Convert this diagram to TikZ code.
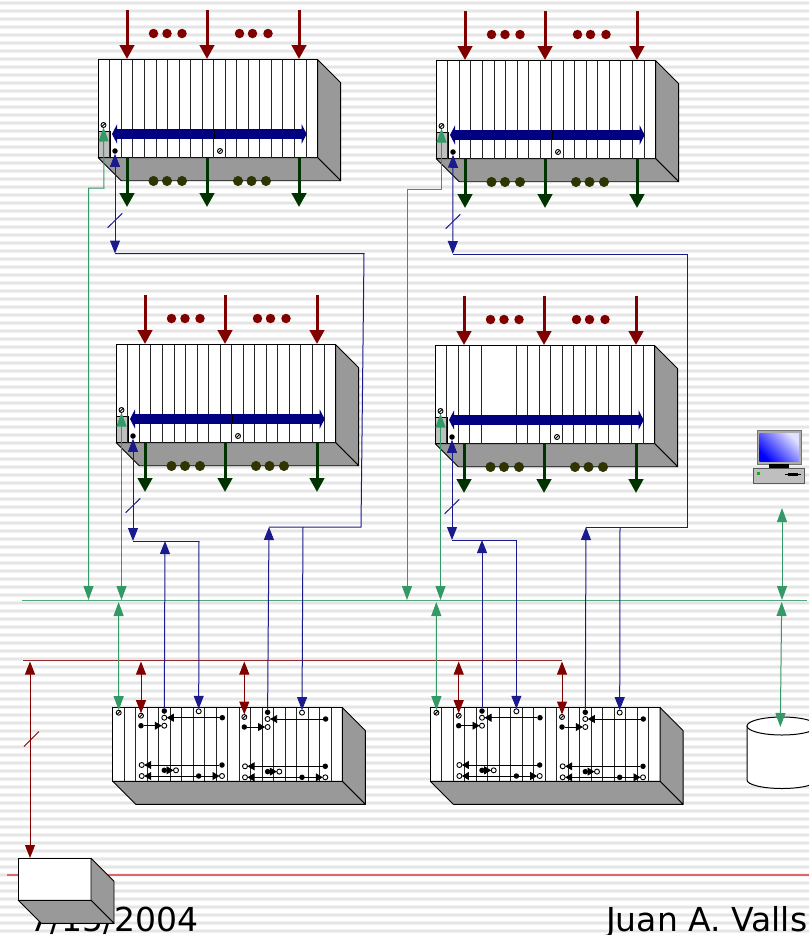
\documentclass[tikz,border=0pt]{standalone}
\usepackage{fontspec}
\setmainfont{DejaVu Sans}
\usetikzlibrary{arrows.meta}
\definecolor{tealc}{HTML}{339966}
\definecolor{bluec}{HTML}{000080}
\definecolor{bluel}{HTML}{1A1A8C}
\definecolor{redc}{HTML}{800000}
\definecolor{grnc}{HTML}{003300}
\definecolor{olive}{HTML}{333300}
\definecolor{sidec}{HTML}{999999}
\definecolor{pwrc}{HTML}{DD6666}
\tikzset{
  rackfront/.style={draw=black,fill=white,line width=0.9pt,inner sep=0pt,outer sep=0pt,anchor=north west},
  rackside/.style={draw=black,fill=sidec,line width=0.9pt,line join=round},
  slotline/.style={draw=black!85,line width=0.9pt},
  tealln/.style={draw=tealc,line width=1pt,{Triangle[width=10pt,length=14pt]}-{Triangle[width=10pt,length=14pt]}},
  blueln/.style={draw=bluel,line width=1pt,line join=miter},
  redln/.style={draw=redc,line width=1pt,{Triangle[width=10pt,length=13pt]}-{Triangle[width=10pt,length=13pt]}},
  heavy/.style={line width=3pt,-{Triangle[width=14.5pt,length=14pt]}},
  busar/.style={draw=bluec,line width=10pt,{Triangle[width=19pt,length=5pt]}-{Triangle[width=19pt,length=5pt]}},
  sdot/.style={circle,draw=black,fill=white,line width=0.9pt,minimum size=5pt,inner sep=0pt,outer sep=0pt},
  fdot/.style={circle,fill=black,minimum size=5.5pt,inner sep=0pt,outer sep=0pt},
  odot/.style={circle,draw=black,fill=white,line width=0.9pt,minimum size=5pt,inner sep=0pt,outer sep=0pt},
  tiny/.style={draw=black,line width=0.8pt,-{Triangle[width=8pt,length=7pt]}},
  tinyb/.style={draw=black,line width=0.8pt,{Triangle[width=8pt,length=7pt]}-{Triangle[width=8pt,length=7pt]}},
  ball/.style={circle,inner sep=0pt,outer sep=0pt,minimum size=9.5pt},
  foot/.style={anchor=base west,inner sep=0pt,font=\fontsize{33}{36}\selectfont,text=black},
}
% body: name, x, y, width, height
\newcommand{\boxbody}[5]{%
  \node[rackfront,minimum width=#4pt,minimum height=#5pt] (#1) at (#2,#3) {};
  \draw[rackside] (#1.north east) -- ++(23,23) -- ++(0,#5) -- (#1.south east) -- cycle;
  \draw[rackside] (#1.south west) -- ++(23,23) -- ++(#4,0) -- (#1.south east) -- cycle;
}
% slashed dot
\newcommand{\sdotat}[3]{%
  \node[sdot] (#1) at (#2,#3) {};
  \draw[black,line width=0.9pt] (#1.south west) -- (#1.north east);
}
% top type rack: name, dx, dy, list of slots
\newcommand{\toprack}[4]{%
\begin{scope}[shift={(#2,#3)}]
  \boxbody{#1}{98.3}{59.7}{219.3}{98}
  \fill[black!25] (98.3,131.7) rectangle (110,157.7);
  \draw[black,line width=0.9pt] (98.3,131.7) -- (110,131.7) -- (110,157.7) -- (98.3,157.7) -- cycle;
  \foreach \i in {#4} { \draw[slotline] ({98.3+\i*11.54},59.7) -- ({98.3+\i*11.54},157.7); }
  \sdotat{#1-ctl}{103.5}{125}
  \node[fdot] (#1-port) at (115,151) {};
  \sdotat{#1-aux}{220}{151}
  \coordinate (#1-bl) at (112,134); \coordinate (#1-br) at (306.7,134);
  \draw[busar] (#1-bl) -- (#1-br);
  \coordinate (#1-bt) at (214,129); \coordinate (#1-bb) at (214,139);
  \draw[black,line width=0.6pt] (#1-bt) -- (#1-bb);
  \foreach \p in {127,207,299} {
    \coordinate (#1-i\p) at (\p,10); \coordinate (#1-j\p) at (\p,59);
    \draw[heavy,redc] (#1-i\p) -- (#1-j\p);
    \coordinate (#1-k\p) at (\p,158); \coordinate (#1-l\p) at (\p,207);
    \draw[heavy,grnc] (#1-k\p) -- (#1-l\p);
  }
  \foreach \p/\n in {153.5/a,167/b,182/c,239.5/d,252.5/e,268/f} { \node[ball,fill=redc] (#1-u\n) at (\p,33.5) {}; }
  \foreach \p/\n in {153.5/a,167/b,182/c,238/d,251.5/e,266/f} { \node[ball,fill=olive,draw=grnc!60!olive,line width=0.4pt] (#1-w\n) at (\p,181) {}; }
  \coordinate (#1-s1) at (107.7,227.7); \coordinate (#1-s2) at (122.3,213.3);
  \draw[draw=bluel,line width=1pt] (#1-s1) -- (#1-s2);
\end{scope}}
% inner module
\newcommand{\modul}[3]{%
\begin{scope}[shift={(#2,#3)}]
  \sdotat{#1-r}{141}{715.7}
  \node[fdot] (#1-f) at (164.3,711) {};
  \node[odot] (#1-o) at (198.7,711.3) {};
  \node[fdot] (#1-a1) at (222.3,717.7) {};
  \node[odot] (#1-a2) at (164.3,717.7) {};
  \draw[tiny] (#1-a1) -- (#1-a2);
  \node[fdot] (#1-b1) at (141,725.7) {};
  \node[odot] (#1-b2) at (164.3,725.7) {};
  \draw[tiny] (#1-b1) -- (#1-b2);
  \node[fdot] (#1-c1) at (222,765) {};
  \node[odot] (#1-c2) at (141.7,765) {};
  \draw[tiny] (#1-c1) -- (#1-c2);
  \node[fdot] (#1-d1) at (164.3,770.3) {};
  \node[odot] (#1-d2) at (176,770.3) {};
  \draw[tiny] (#1-d1) -- (#1-d2);
  \node[odot] (#1-e1) at (141.7,776) {};
  \node[odot] (#1-e2) at (222,776) {};
  \draw[tinyb] (#1-e1) -- (#1-e2);
  \node[fdot] (#1-e3) at (198.7,776) {};
\end{scope}}
% bottom rack: name, dx
\newcommand{\bottomrack}[2]{%
\begin{scope}[shift={(#2,0)}]
  \boxbody{#1}{112.7}{707.7}{229.7}{73.6}
  \foreach \i in {1,...,19} { \draw[slotline] ({112.7+\i*11.49},707.7) -- ({112.7+\i*11.49},781.3); }
  \sdotat{#1-ctl}{118.7}{712.7}
  \modul{#1-m1}{0}{0}
  \modul{#1-m2}{103.3}{1.3}
  \coordinate (#1-tb) at (118.6,602);
  \coordinate (#1-r1) at (141,661.5);
  \coordinate (#1-r2) at (244.3,661.5);
\end{scope}}
\begin{document}
\begin{tikzpicture}[x=1pt,y=-1pt]
\useasboundingbox (0,0) rectangle (809,935);
\clip (0,0) rectangle (809,935);
\fill[white] (0,0) rectangle (809,935);
\foreach \k in {0,...,116} {
  \fill[black!5] (0,{0.7+8*\k}) rectangle (809,{4.7+8*\k});
  \fill[black!10] (0,{1.7+8*\k}) rectangle (809,{3.7+8*\k});
}
% footer text
\node[foot] (date) at (29,931.5) {7/15/2004};
\node[foot] (author) at (606,931.5) {Juan A. Valls};
% buses
\coordinate (busTl) at (22,600.5); \coordinate (busTr) at (807,600.5);
\draw[draw=tealc!85!white,line width=1pt] (busTl) -- (busTr);
\coordinate (busRl) at (23,660.5); \coordinate (busRr) at (562,660.5);
\draw[draw=redc!85!white,line width=1pt] (busRl) -- (busRr);
\coordinate (busPl) at (7,875); \coordinate (busPr) at (809,875);
\draw[draw=pwrc,line width=1.3pt] (busPl) -- (busPr);
% racks
\toprack{A}{0}{0}{1,...,18}
\toprack{B}{338}{1}{1,...,18}
\toprack{C}{18}{285}{1,...,18}
\toprack{D}{337}{286}{1,2,3,4,7,8,...,18}
\bottomrack{E}{0}
\bottomrack{F}{317.7}
% small unit
\boxbody{G}{18.3}{858.3}{72.7}{42}
% teal links
\coordinate (t1a) at (88.5,600); \coordinate (t1b) at (88.5,188); \coordinate (t1c) at (104,188);
\draw[tealln] (t1a) -- (t1b) -- (t1c) -- (A-ctl);
\coordinate (t2a) at (407,600); \coordinate (t2b) at (407,189); \coordinate (t2c) at (441.5,189);
\draw[tealln] (t2a) -- (t2b) -- (t2c) -- (B-ctl);
\coordinate (t3a) at (121.5,600);
\draw[tealln] (t3a) -- (C-ctl);
\coordinate (t4a) at (440.5,600);
\draw[tealln] (t4a) -- (D-ctl);
\draw[tealln] (E-tb) -- (E-ctl);
\draw[tealln] (F-tb) -- (F-ctl);
% blue links A -> E
\coordinate (ja) at (115,253.5); \coordinate (jb) at (364,253.5); \coordinate (jc) at (361,527); \coordinate (jd) at (269,527); \coordinate (je) at (303,527);
\draw[blueln,{Triangle[width=10pt,length=13pt]}-{Triangle[width=10pt,length=13pt]}] (A-port) -- (ja);
\draw[blueln] (ja) -- (jb) -- (jc) -- (jd);
\draw[blueln,{Triangle[width=10pt,length=13pt]}-] (jd) -- (E-m2-f);
\draw[blueln,-{Triangle[width=10pt,length=13pt]}] (je) -- (E-m2-o);
% blue links B -> F
\coordinate (ka) at (452.8,254); \coordinate (kb) at (687,254); \coordinate (kc) at (687,527); \coordinate (kd) at (586,527); \coordinate (ke) at (620,527);
\draw[blueln,{Triangle[width=10pt,length=13pt]}-{Triangle[width=10pt,length=13pt]}] (B-port) -- (ka);
\draw[blueln] (ka) -- (kb) -- (kc) -- (kd);
\draw[blueln,{Triangle[width=10pt,length=13pt]}-] (kd) -- (F-m2-f);
\draw[blueln,-{Triangle[width=10pt,length=13pt]}] (ke) -- (F-m2-o);
% blue links C -> E
\coordinate (la) at (133,541); \coordinate (lb) at (199,541); \coordinate (lc) at (165,541);
\draw[blueln,{Triangle[width=10pt,length=13pt]}-{Triangle[width=10pt,length=13pt]}] (C-port) -- (la);
\draw[blueln] (la) -- (lb);
\draw[blueln,-{Triangle[width=10pt,length=13pt]}] (lb) -- (E-m1-o);
\draw[blueln,{Triangle[width=10pt,length=13pt]}-] (lc) -- (E-m1-f);
% blue links D -> F
\coordinate (ma) at (452,540); \coordinate (mb) at (516.4,540); \coordinate (mc) at (482,540);
\draw[blueln,{Triangle[width=10pt,length=13pt]}-{Triangle[width=10pt,length=13pt]}] (D-port) -- (ma);
\draw[blueln] (ma) -- (mb);
\draw[blueln,-{Triangle[width=10pt,length=13pt]}] (mb) -- (F-m1-o);
\draw[blueln,{Triangle[width=10pt,length=13pt]}-] (mc) -- (F-m1-f);
% red links
\draw[redln] (E-r1) -- (E-m1-r);
\draw[redln] (E-r2) -- (E-m2-r);
\draw[redln] (F-r1) -- (F-m1-r);
\draw[redln] (F-r2) -- (F-m2-r);
\coordinate (ra) at (30,661.5); \coordinate (rb) at (30,858);
\draw[redln] (ra) -- (rb);
\coordinate (rs1) at (24,746.5); \coordinate (rs2) at (39,731.5);
\draw[draw=redc,line width=1pt] (rs1) -- (rs2);
% workstation
\node[draw=black!55,fill=black!32,line width=1pt,minimum width=44pt,minimum height=34pt,inner sep=0pt] (mon) at (779.2,447.2) {};
\shade[left color=blue!12,right color=blue,shading angle=-45] (759.3,433.5) rectangle (799,461.5);
\fill[black] (769,463.5) rectangle (789,468);
\node[draw=black!65,fill=black!25,line width=1pt,minimum width=51pt,minimum height=15pt,inner sep=0pt] (base) at (779,476) {};
\fill[green!75!black] (756.7,471.7) rectangle (760,475);
\fill[black] (785,473.5) rectangle (801,474.7);
\fill[black] (788,472.7) rectangle (798,475.5);
% disk
\draw[fill=white,draw=black,line width=1pt] (747,726) -- (747,780) arc[start angle=180,end angle=360,x radius=35pt,y radius=8.5pt] -- (817,726) -- cycle;
\draw[fill=white,draw=black,line width=1pt] (782,726) ellipse [x radius=35pt,y radius=9pt];
% workstation and disk links
\coordinate (wa) at (782,508); \coordinate (wb) at (782,600); \coordinate (wc) at (781.7,602); \coordinate (wd) at (780.3,727);
\draw[tealln] (wa) -- (wb);
\draw[tealln] (wc) -- (wd);
\end{tikzpicture}
\end{document}
